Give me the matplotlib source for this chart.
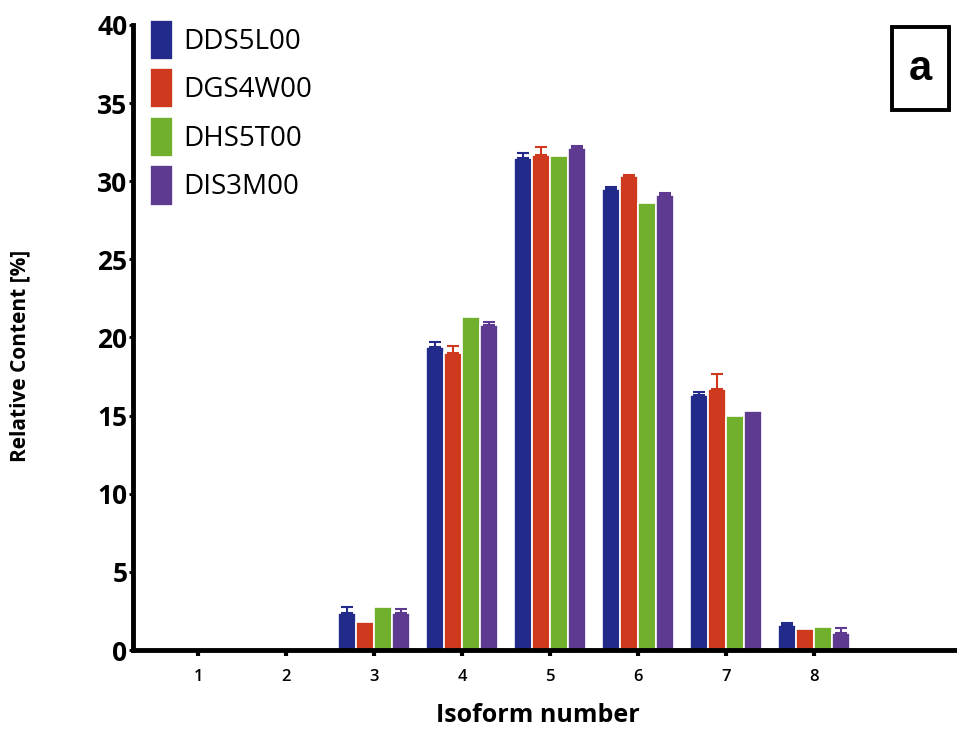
import matplotlib.pyplot as plt
from matplotlib.patches import Rectangle
import numpy as np

plt.rcParams['font.family'] = ['Open Sans', 'DejaVu Sans']

isoforms = ['1', '2', '3', '4', '5', '6', '7', '8']
samples = ['DDS5L00', 'DGS4W00', 'DHS5T00', 'DIS3M00']
colors = ['#232b8a', '#cf3a1e', '#70b02c', '#5e3b91']

# relative content per isoform, one list per sample
dds5l = [0, 0, 2.4, 19.4, 31.5, 29.5, 16.3, 1.6]
dgs4w = [0, 0, 1.8, 19.0, 31.7, 30.3, 16.7, 1.35]
dhs5t = [0, 0, 2.75, 21.3, 31.6, 28.6, 15.0, 1.5]
dis3m = [0, 0, 2.4, 20.8, 32.1, 29.1, 15.3, 1.1]
values = [dds5l, dgs4w, dhs5t, dis3m]

err_dds5l = [0, 0, 0.35, 0.3, 0.3, 0.15, 0.2, 0.1]
err_dgs4w = [0, 0, 0, 0.45, 0.5, 0.1, 0.95, 0]
err_dhs5t = [0, 0, 0, 0, 0, 0, 0, 0]
err_dis3m = [0, 0, 0.25, 0.2, 0.15, 0.15, 0, 0.3]
errors = [err_dds5l, err_dgs4w, err_dhs5t, err_dis3m]

fig = plt.figure(figsize=(9.57, 7.32), dpi=100)
ax = fig.add_axes([0.139, 0.112, 0.86, 0.854])

x = np.arange(1, len(isoforms) + 1)
w = 0.205
for i, (vals, errs, c, name) in enumerate(zip(values, errors, colors, samples)):
    pos = x + (i - 1.5) * w
    ax.bar(pos, vals, width=w, color=c, edgecolor='white', linewidth=1.2,
           label=name, zorder=2)
    errs = np.array(errs)
    m = errs > 0
    ax.errorbar(pos[m], np.array(vals)[m], yerr=[np.zeros(m.sum()), errs[m]],
                fmt='none', ecolor=c, elinewidth=1.5, capsize=4, capthick=1.5,
                zorder=3)

ax.set_xlim(0.26, 9.61)
ax.set_ylim(0, 40)
ax.set_xticks(x)
ax.set_xticklabels(isoforms, fontsize=12, fontweight='semibold')
ax.set_yticks(np.arange(0, 41, 5))
ax.tick_params(axis='y', labelsize=19, width=2, length=3, pad=1)
for t in ax.get_yticklabels():
    t.set_fontweight('bold')
ax.tick_params(axis='x', width=3, length=4, pad=10)

for s in ['top', 'right']:
    ax.spines[s].set_visible(False)
for s in ['left', 'bottom']:
    ax.spines[s].set_linewidth(3.5)

ax.set_ylabel('Relative Content [%]', fontsize=15, fontweight='bold')
ax.yaxis.set_label_coords(-0.125, 0.47)
ax.set_xlabel('Isoform number', fontsize=18, fontweight='bold')
ax.xaxis.set_label_coords(0.492, -0.085)

leg = ax.legend(loc='upper left', bbox_to_anchor=(0.0, 1.035), frameon=False,
                fontsize=20, handlelength=0.85, handleheight=1.85,
                handletextpad=0.35, labelspacing=0.3, borderaxespad=0.2)

# panel letter in a tall framed box
ax.add_patch(Rectangle((0.922, 0.864), 0.069, 0.133, transform=ax.transAxes,
                       facecolor='white', edgecolor='black', linewidth=2.8,
                       clip_on=False, zorder=5))
ax.text(0.9565, 0.93, 'a', transform=ax.transAxes, fontsize=30,
        fontweight='bold', family='Liberation Sans', ha='center', va='center',
        zorder=6)

fig.savefig('out.png', dpi=100)
